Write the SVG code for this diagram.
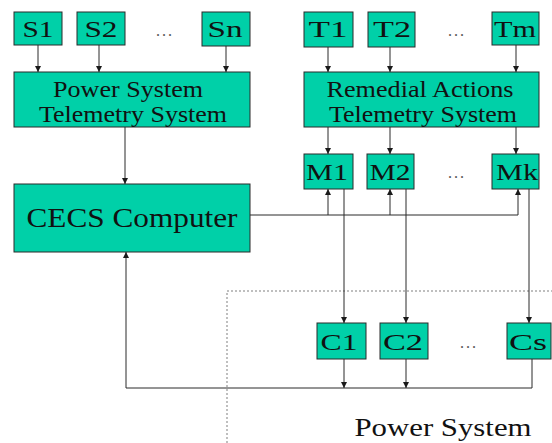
<svg xmlns="http://www.w3.org/2000/svg" width="552" height="443" viewBox="0 0 552 443">
<style>
.box{fill:#00D0A8;stroke:#2a2a2a;stroke-width:1}
text{font-family:"Liberation Serif",serif}
.t{fill:#111;text-anchor:middle}
.sm{font-size:23px}
.lg{font-size:23px}
.xl{font-size:27px}
.dots{font-size:16px;fill:#555;text-anchor:middle;letter-spacing:2px}
.c{fill:none;stroke:#2a2a2a;stroke-width:1}
</style>
<defs>
<marker id="ah" viewBox="0 0 10 10" refX="10" refY="5" markerWidth="6" markerHeight="6" orient="auto" markerUnits="userSpaceOnUse">
<path d="M0,0 L10,5 L0,10 z" fill="#1a1a1a"/>
</marker>
</defs>
<rect x="227" y="291" width="330" height="160" fill="none" stroke="#aaaaaa" stroke-width="1.5" stroke-dasharray="2 2"/>
<g id="S1"><rect class="box" x="14" y="12" width="48" height="33"/><text class="t sm" x="38" y="37" textLength="31" lengthAdjust="spacingAndGlyphs">S1</text></g>
<g id="S2"><rect class="box" x="77" y="12" width="48" height="33"/><text class="t sm" x="101" y="37" textLength="33" lengthAdjust="spacingAndGlyphs">S2</text></g>
<g id="Sn"><rect class="box" x="202" y="12" width="48" height="34"/><text class="t sm" x="225" y="37" textLength="35" lengthAdjust="spacingAndGlyphs">Sn</text></g>
<text class="dots" x="165" y="36">...</text>
<g id="T1"><rect class="box" x="304" y="12" width="49" height="35"/><text class="t sm" x="328" y="37" textLength="39" lengthAdjust="spacingAndGlyphs">T1</text></g>
<g id="T2"><rect class="box" x="368" y="12" width="47" height="35"/><text class="t sm" x="392" y="37" textLength="38" lengthAdjust="spacingAndGlyphs">T2</text></g>
<g id="Tm"><rect class="box" x="492" y="12" width="47" height="33"/><text class="t sm" x="515" y="37" textLength="42" lengthAdjust="spacingAndGlyphs">Tm</text></g>
<text class="dots" x="457" y="36">...</text>
<g id="PSTS"><rect class="box" x="14" y="72" width="236" height="55"/><text class="t lg" x="128" y="97" textLength="150" lengthAdjust="spacingAndGlyphs">Power System</text><text class="t lg" x="133" y="122" textLength="188" lengthAdjust="spacingAndGlyphs">Telemetry System</text></g>
<g id="RATS"><rect class="box" x="304" y="72" width="235" height="55"/><text class="t lg" x="420" y="97" textLength="187" lengthAdjust="spacingAndGlyphs">Remedial Actions</text><text class="t lg" x="423" y="122" textLength="188" lengthAdjust="spacingAndGlyphs">Telemetry System</text></g>
<g id="CECS"><rect class="box" x="14" y="184" width="236" height="68"/><text class="t xl" x="132" y="227" textLength="211" lengthAdjust="spacingAndGlyphs">CECS Computer</text></g>
<g id="M1"><rect class="box" x="304" y="154" width="49" height="35"/><text class="t sm" x="327" y="180" textLength="42" lengthAdjust="spacingAndGlyphs">M1</text></g>
<g id="M2"><rect class="box" x="367" y="154" width="47" height="35"/><text class="t sm" x="390" y="180" textLength="41" lengthAdjust="spacingAndGlyphs">M2</text></g>
<g id="Mk"><rect class="box" x="492" y="154" width="47" height="35"/><text class="t sm" x="517" y="180" textLength="42" lengthAdjust="spacingAndGlyphs">Mk</text></g>
<text class="dots" x="457" y="178">...</text>
<g id="C1"><rect class="box" x="317" y="323" width="49" height="36"/><text class="t sm" x="339" y="350" textLength="37" lengthAdjust="spacingAndGlyphs">C1</text></g>
<g id="C2"><rect class="box" x="380" y="323" width="48" height="36"/><text class="t sm" x="403" y="350" textLength="40" lengthAdjust="spacingAndGlyphs">C2</text></g>
<g id="Cs"><rect class="box" x="507" y="323" width="44" height="36"/><text class="t sm" x="528" y="350" textLength="38" lengthAdjust="spacingAndGlyphs">Cs</text></g>
<text class="dots" x="469" y="348">...</text>
<text class="t" x="443" y="436" font-size="25" textLength="177" lengthAdjust="spacingAndGlyphs">Power System</text>
<g id="connectors">
<path class="c" marker-end="url(#ah)" d="M38,45 V72"/>
<path class="c" marker-end="url(#ah)" d="M99,45 V72"/>
<path class="c" marker-end="url(#ah)" d="M226,46 V72"/>
<path class="c" marker-end="url(#ah)" d="M328,47 V72"/>
<path class="c" marker-end="url(#ah)" d="M390,47 V72"/>
<path class="c" marker-end="url(#ah)" d="M516,45 V72"/>
<path class="c" marker-end="url(#ah)" d="M125,127 V184"/>
<path class="c" marker-end="url(#ah)" d="M328,127 V154"/>
<path class="c" marker-end="url(#ah)" d="M390,127 V154"/>
<path class="c" marker-end="url(#ah)" d="M516,127 V154"/>
<path class="c" d="M250,215 H518"/>
<path class="c" marker-end="url(#ah)" d="M328,215 V189"/>
<path class="c" marker-end="url(#ah)" d="M390,215 V189"/>
<path class="c" marker-end="url(#ah)" d="M518,215 V189"/>
<path class="c" marker-end="url(#ah)" d="M344,189 V323"/>
<path class="c" marker-end="url(#ah)" d="M406,189 V323"/>
<path class="c" marker-end="url(#ah)" d="M529,189 V323"/>
<path class="c" marker-end="url(#ah)" d="M344,359 V388"/>
<path class="c" marker-end="url(#ah)" d="M406,359 V388"/>
<path class="c" marker-end="url(#ah)" d="M532,359 V388 H126 V252"/>
</g>
</svg>
